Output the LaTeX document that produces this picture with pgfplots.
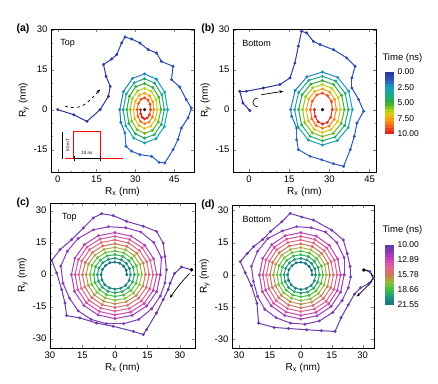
\documentclass[border=0pt]{standalone}
\usepackage{fontspec}
\setmainfont{Liberation Sans}
\usepackage{pgfplots}
\pgfplotsset{compat=1.18}
\usepackage{pgfplotstable}
\usetikzlibrary{arrows.meta}

\pgfplotsset{
  colormap={timeA}{rgb(0cm)=(0.18,0.20,0.59); rgb(3cm)=(0.18,0.35,0.75); rgb(5cm)=(0.08,0.63,0.75); rgb(8cm)=(0.12,0.67,0.47); rgb(10cm)=(0.20,0.67,0.20); rgb(13cm)=(0.78,0.84,0.08); rgb(15cm)=(0.98,0.67,0.08); rgb(18cm)=(0.94,0.31,0.12); rgb(20cm)=(0.86,0.10,0.14)},
  colormap={timeB}{rgb(0cm)=(0.37,0.24,0.65); rgb(13cm)=(0.55,0.24,0.73); rgb(25cm)=(0.80,0.27,0.69); rgb(37cm)=(0.88,0.41,0.55); rgb(50cm)=(0.80,0.45,0.37); rgb(62cm)=(0.59,0.75,0.24); rgb(75cm)=(0.24,0.75,0.27); rgb(87cm)=(0.12,0.59,0.49); rgb(100cm)=(0.10,0.43,0.51)},
  panel/.style={
    scale only axis,
    axis line style={line width=0.6pt},
    tick align=inside,
    major tick length=3pt, minor tick length=1.5pt,
    minor x tick num=2, minor y tick num=2,
    tick label style={font=\fontsize{9.5}{10}\selectfont},
    label style={font=\fontsize{10}{11}\selectfont},
    /pgf/number format/assume math mode=true,
    xlabel={R\textsubscript{x} (nm)},
    ylabel={R\textsubscript{y} (nm)},
    xlabel style={yshift=2pt},
    ylabel style={yshift=-2pt},
  },
  cbar/.style={
    scale only axis, width=9pt, enlargelimits=false,
    xmin=0, xmax=1, y dir=reverse,
    axis line style={draw=none}, xtick=\empty,
    yticklabel pos=right, ytick style={draw=none},
    tick label style={font=\fontsize{8.5}{9}\selectfont},
    /pgf/number format/assume math mode=true,
  },
  trajline/.style={mesh, point meta=explicit, line width=1pt},
  trajmarks/.style={scatter, only marks, mark=*, mark size=1.3pt, point meta=explicit,
    scatter/use mapped color={draw=mapped color, fill=mapped color}},
}

\pgfplotstableread{
x y t
0 0 0
6.2 -1.9 0.06
11.3 -4.4 0.11
16.4 0 0.17
19.6 5 0.22
20.3 8.75 0.28
18.7 12.5 0.34
17.7 16.9 0.39
20.9 19 0.45
22.8 20.6 0.5
24.7 25 0.56
26 27.25 0.62
28.6 26.5 0.67
31.8 25 0.73
35 22.5 0.78
38.2 21.25 0.84
40.1 18.1 0.9
44.6 16.25 0.95
44 11.25 1.01
47.2 8.5 1.06
49.7 3.75 1.12
51.7 0.6 1.18
50.4 -3.1 1.23
47.8 -6.9 1.29
46.5 -11.25 1.34
44.6 -15 1.4
41.4 -20 1.46
39.2 -19.75 1.51
36.3 -17.5 1.57
31.8 -16.9 1.62
28.6 -15.6 1.68
26.4 -13.75 1.74
26 -8.75 1.79
24.4 -4.75 1.85
24.0 0.0 1.90
25.4 6.8 2.01
28.9 11.7 2.13
33.6 13.4 2.24
38.2 11.4 2.35
41.4 6.5 2.46
42.5 0 2.58
41.2 -6.4 2.69
38.0 -10.9 2.80
33.6 -12.5 2.91
29.4 -10.7 3.03
26.3 -6.1 3.14
25.3 0 3.25
26.5 5.9 3.36
29.6 10.1 3.48
33.6 11.6 3.59
37.5 9.9 3.70
40.3 5.6 3.81
41.2 0 3.93
40.1 -5.5 4.04
37.3 -9.4 4.15
33.6 -10.7 4.26
30.0 -9.1 4.38
27.5 -5.2 4.49
26.7 0 4.60
27.7 5.0 4.71
30.2 8.6 4.83
33.6 9.8 4.94
36.8 8.3 5.05
39.1 4.7 5.16
39.9 0 5.28
38.9 -4.6 5.39
36.6 -7.8 5.50
33.6 -8.9 5.61
30.7 -7.5 5.73
28.6 -4.3 5.84
28.0 0 5.95
28.8 4.1 6.06
30.9 7.0 6.18
33.6 8.0 6.29
36.2 6.8 6.40
38.0 3.8 6.51
38.5 0 6.63
37.8 -3.7 6.74
36.0 -6.2 6.85
33.6 -7.1 6.96
31.4 -6.0 7.08
29.8 -3.4 7.19
29.3 0 7.30
30.0 3.2 7.41
31.6 5.5 7.53
33.6 6.2 7.64
35.5 5.2 7.75
36.8 2.9 7.86
37.2 0 7.98
36.6 -2.8 8.09
35.3 -4.7 8.20
33.6 -5.3 8.31
32.0 -4.4 8.43
31.0 -2.5 8.54
30.7 0 8.65
31.2 2.3 8.76
32.2 3.9 8.88
33.6 4.4 8.99
34.9 3.6 9.10
35.7 2.0 9.21
35.9 0 9.33
35.5 -1.9 9.44
34.6 -3.1 9.55
33.6 -3.5 9.66
32.7 -2.9 9.78
32.1 -1.6 9.89
32.0 0 10.00
}\trajA

\pgfplotstableread{
x y t
0.3 -0.4 0
-2.3 2.5 0.06
-3.5 6.9 0.12
-1 6.9 0.18
5.3 8.1 0.24
11.5 9.4 0.30
15.3 11.9 0.37
17.1 17.5 0.43
18.4 23.8 0.49
19.6 29.4 0.55
21.5 28.8 0.61
24 25.6 0.67
26.5 24.4 0.73
31.5 22.5 0.79
36.5 19.4 0.85
39.6 16.3 0.91
38.4 11.9 0.98
38.4 8.1 1.04
40.9 3.8 1.10
42.8 -0.6 1.16
40.3 -5 1.22
39.3 -10 1.28
37.8 -15 1.34
35.3 -21.3 1.40
31.5 -20.3 1.46
27.1 -18.8 1.52
22.8 -17.5 1.59
18.4 -15 1.65
17.8 -11.3 1.71
17.8 -6.9 1.77
15.9 -2.5 1.83
15.5 0 1.90
17.2 7.2 2.01
21.6 12.3 2.13
27.4 14.1 2.24
33.1 12.1 2.35
37.2 6.9 2.46
38.6 0 2.58
37.0 -6.8 2.69
32.9 -11.6 2.80
27.4 -13.3 2.91
22.1 -11.4 3.03
18.3 -6.5 3.14
17.0 0 3.25
18.5 6.4 3.36
22.3 11.0 3.48
27.4 12.5 3.59
32.4 10.7 3.70
35.9 6.1 3.81
37.1 0 3.93
35.7 -6.0 4.04
32.1 -10.3 4.15
27.4 -11.7 4.26
22.8 -10.0 4.38
19.6 -5.7 4.49
18.5 0 4.60
19.8 5.6 4.71
23.1 9.6 4.83
27.4 10.9 4.94
31.6 9.4 5.05
34.6 5.3 5.16
35.6 0 5.28
34.4 -5.2 5.39
31.4 -8.9 5.50
27.4 -10.1 5.61
23.6 -8.7 5.73
20.8 -4.9 5.84
20.0 0 5.95
21.1 4.8 6.06
23.8 8.2 6.18
27.4 9.4 6.29
30.9 8.0 6.40
33.3 4.5 6.51
34.1 0 6.63
33.1 -4.4 6.74
30.6 -7.5 6.85
27.4 -8.6 6.96
24.3 -7.3 7.08
22.1 -4.2 7.19
21.4 0 7.30
22.3 4.0 7.41
24.5 6.8 7.53
27.4 7.8 7.64
30.1 6.6 7.75
32.0 3.8 7.86
32.6 0 7.98
31.8 -3.6 8.09
29.9 -6.2 8.20
27.4 -7.0 8.31
25.0 -5.9 8.43
23.4 -3.4 8.54
22.9 0 8.65
23.6 3.2 8.76
25.3 5.5 8.88
27.4 6.2 8.99
29.4 5.2 9.10
30.8 3.0 9.21
31.1 0 9.33
30.5 -2.8 9.44
29.2 -4.8 9.55
27.4 -5.4 9.66
25.8 -4.6 9.78
24.7 -2.6 9.89
24.4 0 10.00
}\trajB

\pgfplotstableread{
x y t
35.4 2.3 10.00
30.8 3.6 10.03
27.5 0.5 10.06
25.5 -4 10.09
24.6 -7 10.12
22.3 -11.7 10.15
19.2 -18 10.18
14.6 -25.8 10.21
13.1 -28.1 10.24
8.5 -26.6 10.27
-0.8 -24.2 10.30
-8.5 -22.7 10.34
-16.2 -20.3 10.37
-22.3 -19.2 10.40
-23.1 -13.3 10.43
-24.6 -7 10.46
-26.9 0.8 10.49
-29.2 6.7 10.52
-25.4 11.7 10.55
-20 16.4 10.58
-14.6 21.9 10.61
-10 26.6 10.64
-6.2 28.6 10.67
-0.8 27.7 10.70
5.4 25 10.73
13.1 22.7 10.76
19.2 20.3 10.79
22.3 14.8 10.82
23.1 8.6 10.85
23.8 2.3 10.88
23.1 -3.9 10.92
21 -10 10.96
17 -16 11.00
11 -21 11.04
4 -23 11.08
-4 -23 11.12
-11 -21 11.16
-17 -17 11.20
-21 -11 11.24
-24 -4 11.28
-25 4 11.32
-22 11 11.36
-17 17 11.40
-10 21 11.44
-3 22.5 11.48
5 22 11.51
12 20 11.54
18 15 11.56
21.5 8 11.58
21 0 11.60
}\outerC

\pgfplotstableread{
x y t
30.6 2.3 10.00
33.5 1.5 10.02
35.2 -1.5 10.04
33 -4 10.06
29 -6 10.09
26 -9 10.12
23 -14 10.15
19.5 -20 10.18
16.6 -26.4 10.21
10 -26 10.24
2.9 -25.6 10.27
-6 -25 10.30
-13 -24.5 10.33
-20.5 -22.5 10.37
-21.3 -13.2 10.40
-24 -5 10.43
-27 1 10.46
-29.4 6.2 10.49
-26 10 10.52
-22.9 13.2 10.55
-18.5 16.5 10.58
-14.8 20.2 10.61
-9.2 24.8 10.64
-5.2 28.7 10.67
0.5 27 10.70
6.1 25.6 10.73
15 20.9 10.76
20.6 16.3 10.79
22.5 10 10.82
23.9 3.9 10.85
24.2 -1 10.88
23 -6 10.92
20 -12 10.96
15.5 -17.5 11.00
9 -21.5 11.04
2 -23 11.08
-5 -22.5 11.12
-12 -20 11.16
-17.5 -16 11.20
-21 -10 11.24
-23 -3 11.28
-24 4 11.32
-21 11 11.36
-16 17 11.40
-9 20.5 11.44
-2 22.5 11.48
5 22 11.51
12 20 11.54
17.5 15 11.56
21 8 11.58
21 0 11.60
}\outerD

\pgfplotstableread{
x y t
21.0 0 11.60
19.3 -8.0 11.67
14.7 -14.7 11.74
7.9 -19.1 11.81
0 -20.6 11.88
-7.8 -18.9 11.95
-14.4 -14.4 12.01
-18.7 -7.8 12.08
-20.1 0 12.15
-18.5 7.7 12.22
-14.1 14.1 12.29
-7.6 18.3 12.36
0 19.7 12.43
7.5 18.1 12.50
13.8 13.8 12.57
17.9 7.4 12.64
19.3 0 12.71
17.7 -7.3 12.77
13.5 -13.5 12.84
7.3 -17.5 12.91
0 -18.9 12.98
-7.2 -17.3 13.05
-13.2 -13.2 13.12
-17.1 -7.1 13.19
-18.4 0 13.26
-16.9 7.0 13.33
-12.9 12.9 13.40
-6.9 16.7 13.47
0 18.0 13.53
6.8 16.5 13.60
12.6 12.6 13.67
16.3 6.8 13.74
17.6 0 13.81
16.1 -6.7 13.88
12.3 -12.3 13.95
6.6 -15.9 14.02
0 -17.1 14.09
-6.5 -15.7 14.16
-12.0 -12.0 14.23
-15.5 -6.4 14.29
-16.7 0 14.36
-15.3 6.4 14.43
-11.7 11.7 14.50
-6.3 15.1 14.57
0 16.3 14.64
6.2 14.9 14.71
11.3 11.3 14.78
14.7 6.1 14.85
15.8 0 14.92
14.5 -6.0 14.99
11.0 -11.0 15.06
5.9 -14.3 15.12
0 -15.4 15.19
-5.9 -14.1 15.26
-10.7 -10.7 15.33
-13.9 -5.8 15.40
-15.0 0 15.47
-13.7 5.7 15.54
-10.4 10.4 15.61
-5.6 13.5 15.68
0 14.5 15.75
5.5 13.3 15.82
10.1 10.1 15.88
13.1 5.4 15.95
14.1 0 16.02
12.9 -5.4 16.09
9.8 -9.8 16.16
5.3 -12.7 16.23
0 -13.7 16.30
-5.2 -12.5 16.37
-9.5 -9.5 16.44
-12.3 -5.1 16.51
-13.3 0 16.58
-12.2 5.0 16.64
-9.2 9.2 16.71
-5.0 11.9 16.78
0 12.8 16.85
4.9 11.7 16.92
8.9 8.9 16.99
11.6 4.8 17.06
12.4 0 17.13
11.3 -4.7 17.20
8.6 -8.6 17.27
4.6 -11.2 17.34
0 -12.0 17.40
-4.5 -10.9 17.47
-8.3 -8.3 17.54
-10.8 -4.5 17.61
-11.5 0 17.68
-10.6 4.4 17.75
-8.0 8.0 17.82
-4.3 10.4 17.89
0 11.1 17.96
4.2 10.2 18.03
7.7 7.7 18.10
10.0 4.1 18.16
10.7 0 18.23
9.8 -4.0 18.30
7.4 -7.4 18.37
4.0 -9.6 18.44
0 -10.2 18.51
-3.9 -9.4 18.58
-7.1 -7.1 18.65
-9.2 -3.8 18.72
-9.8 0 18.79
-9.0 3.7 18.86
-6.8 6.8 18.92
-3.6 8.8 18.99
0 9.4 19.06
3.6 8.6 19.13
6.5 6.5 19.20
8.4 3.5 19.27
9.0 0 19.34
8.2 -3.4 19.41
6.2 -6.2 19.48
3.3 -8.0 19.55
0 -8.5 19.62
-3.2 -7.8 19.68
-5.9 -5.9 19.75
-7.6 -3.1 19.82
-8.1 0 19.89
-7.4 3.1 19.96
-5.6 5.6 20.03
-3.0 7.2 20.10
0 7.7 20.17
2.9 7.0 20.24
5.3 5.3 20.31
6.8 2.8 20.38
7.2 0 20.44
6.6 -2.7 20.51
5.0 -5.0 20.58
2.6 -6.4 20.65
0 -6.8 20.72
-2.6 -6.2 20.79
-4.7 -4.7 20.86
-6.0 -2.5 20.93
-6.4 0 21.00
-5.8 2.4 21.07
-4.3 4.3 21.14
-2.3 5.6 21.20
0 5.9 21.27
2.2 5.4 21.34
4.0 4.0 21.41
5.2 2.1 21.48
5.5 0 21.55
}\ringsCD

\begin{document}
\begin{tikzpicture}
\useasboundingbox (0pt,0pt) rectangle (438pt,383pt);

% ---------------- (a)
\begin{axis}[panel, at={(51pt,211pt)}, anchor=south west, width=143pt, height=143pt,
  xmin=-2.6, xmax=52.7, ymin=-23.4, ymax=30.25,
  xtick={0,15,30,45}, ytick={-15,0,15,30},
  colormap name=timeA, point meta min=0, point meta max=10]
\addplot[trajline] table[x=x,y=y,meta=t] {\trajA};
\addplot[trajmarks] table[x=x,y=y,meta=t] {\trajA};
\addplot[only marks, mark=*, mark size=1.4pt, black] coordinates {(33.6,0)};
\addplot[red, line width=0.8pt] coordinates {(3,-18.4) (6.2,-18.4) (6.2,-8.25) (16.4,-8.25) (16.4,-18.4) (25.3,-18.4)};
\addplot[black, line width=0.5pt] coordinates {(1.8,-8.25) (1.8,-18.4)};
\draw[black, line width=0.4pt, |-|] (axis cs:6.2,-18.4) -- (axis cs:16.4,-18.4);
\node[font=\fontsize{4.5}{5}\selectfont] at (axis cs:11.3,-16.4) {10 ns};
\node[font=\fontsize{4.5}{5}\selectfont, rotate=90] at (axis cs:3.9,-13.3) {50 mT};
\draw[dashed, line width=0.7pt, -{Stealth[length=4pt,width=3pt]}] (axis cs:2.9,1.3) .. controls (axis cs:9,-0.8) and (axis cs:12,3) .. (axis cs:16.4,7.6);
\node[anchor=west, font=\fontsize{9}{10}\selectfont] at (rel axis cs:0.04,0.9) {Top};
\end{axis}

% ---------------- (b)
\begin{axis}[panel, at={(233pt,211pt)}, anchor=south west, width=143pt, height=143pt,
  xmin=-6, xmax=47.4, ymin=-23.4, ymax=30.25,
  xtick={0,15,30,45}, ytick={-15,0,15,30},
  colormap name=timeA, point meta min=0, point meta max=10]
\addplot[trajline] table[x=x,y=y,meta=t] {\trajB};
\addplot[trajmarks] table[x=x,y=y,meta=t] {\trajB};
\addplot[only marks, mark=*, mark size=1.4pt, black] coordinates {(27.4,0)};
\draw[line width=0.7pt, -{Stealth[length=4pt,width=3pt]}] (axis cs:4.6,5.6) -- (axis cs:12.8,6.9);
\draw[line width=0.6pt] (axis cs:3.3,4.3) .. controls (axis cs:0.8,4.3) and (axis cs:0.8,1.1) .. (axis cs:3.3,1.1);
\node[anchor=west, font=\fontsize{9}{10}\selectfont] at (rel axis cs:0.04,0.9) {Bottom};
\end{axis}

% colour bar (b)
\begin{axis}[cbar, at={(385pt,249pt)}, anchor=south west, height=62pt,
  ymin=0, ymax=10, ytick={0,2.5,5,7.5,10}, yticklabels={0.00,2.50,5.00,7.50,10.00},
  colormap name=timeA, point meta min=0, point meta max=10]
\addplot[mesh, line width=9pt, point meta=y] coordinates {(0.5,0) (0.5,0.5) (0.5,1) (0.5,1.5) (0.5,2) (0.5,2.5) (0.5,3) (0.5,3.5) (0.5,4) (0.5,4.5) (0.5,5) (0.5,5.5) (0.5,6) (0.5,6.5) (0.5,7) (0.5,7.5) (0.5,8) (0.5,8.5) (0.5,9) (0.5,9.5) (0.5,10)};
\end{axis}

% ---------------- (c)
\begin{axis}[panel, at={(50pt,35pt)}, anchor=south west, width=145pt, height=145pt,
  xmin=-30, xmax=37, ymin=-34.4, ymax=33.6,
  xtick={-30,-15,0,15,30}, xticklabels={30,15,0,15,30}, ytick={-30,-15,0,15,30},
  colormap name=timeB, point meta min=10, point meta max=21.55]
\addplot[trajline] table[x=x,y=y,meta=t] {\outerC};
\addplot[trajline] table[x=x,y=y,meta=t] {\ringsCD};
\addplot[trajmarks] table[x=x,y=y,meta=t] {\outerC};
\addplot[trajmarks] table[x=x,y=y,meta=t] {\ringsCD};
\addplot[only marks, mark=*, mark size=1.5pt, black] coordinates {(35.4,2.3)};
\draw[line width=0.7pt, -{Stealth[length=4pt,width=3pt]}] (axis cs:34.5,0.5) .. controls (axis cs:31,-3) and (axis cs:28,-7) .. (axis cs:25.4,-10.9);
\node[anchor=west, font=\fontsize{9}{10}\selectfont] at (rel axis cs:0.06,0.9) {Top};
\end{axis}

% ---------------- (d)
\begin{axis}[panel, at={(232pt,35pt)}, anchor=south west, width=142pt, height=143pt,
  xmin=-33.4, xmax=35.5, ymin=-34.1, ymax=32.6,
  xtick={-30,-15,0,15,30}, xticklabels={30,15,0,15,30}, ytick={-30,-15,0,15,30},
  colormap name=timeB, point meta min=10, point meta max=21.55]
\addplot[trajline] table[x=x,y=y,meta=t] {\outerD};
\addplot[trajline] table[x=x,y=y,meta=t] {\ringsCD};
\addplot[trajmarks] table[x=x,y=y,meta=t] {\outerD};
\addplot[trajmarks] table[x=x,y=y,meta=t] {\ringsCD};
\addplot[only marks, mark=*, mark size=1.5pt, black] coordinates {(30.6,2.3)};
\draw[line width=0.7pt] (axis cs:30.6,2.3) .. controls (axis cs:35,2.5) and (axis cs:36.5,-2.5) .. (axis cs:32.3,-5.2);
\draw[line width=0.7pt, -{Stealth[length=4pt,width=3pt]}] (axis cs:32.3,-5.2) -- (axis cs:27.1,-10.1);
\node[anchor=west, font=\fontsize{9}{10}\selectfont] at (rel axis cs:0.05,0.9) {Bottom};
\end{axis}

% colour bar (d)
\begin{axis}[cbar, at={(385pt,78pt)}, anchor=south west, height=60pt,
  ymin=10, ymax=21.55, ytick={10,12.89,15.78,18.66,21.55}, yticklabels={10.00,12.89,15.78,18.66,21.55},
  colormap name=timeB, point meta min=10, point meta max=21.55]
\addplot[mesh, line width=9pt, point meta=y] coordinates {(0.5,10) (0.5,10.58) (0.5,11.16) (0.5,11.73) (0.5,12.31) (0.5,12.89) (0.5,13.47) (0.5,14.04) (0.5,14.62) (0.5,15.2) (0.5,15.78) (0.5,16.35) (0.5,16.93) (0.5,17.51) (0.5,18.09) (0.5,18.66) (0.5,19.24) (0.5,19.82) (0.5,20.4) (0.5,20.97) (0.5,21.55)};
\end{axis}

% panel labels and colorbar titles
\node[font=\bfseries\fontsize{10.5}{11}\selectfont] at (23pt,354pt) {(a)};
\node[font=\bfseries\fontsize{10.5}{11}\selectfont] at (208pt,354pt) {(b)};
\node[font=\bfseries\fontsize{10.5}{11}\selectfont] at (23pt,180pt) {(c)};
\node[font=\bfseries\fontsize{10.5}{11}\selectfont] at (208pt,178pt) {(d)};
\node[anchor=west, font=\fontsize{9.5}{10}\selectfont] at (379pt,325pt) {Time (ns)};
\node[anchor=west, font=\fontsize{9.5}{10}\selectfont] at (379pt,153pt) {Time (ns)};
\end{tikzpicture}
\end{document}
